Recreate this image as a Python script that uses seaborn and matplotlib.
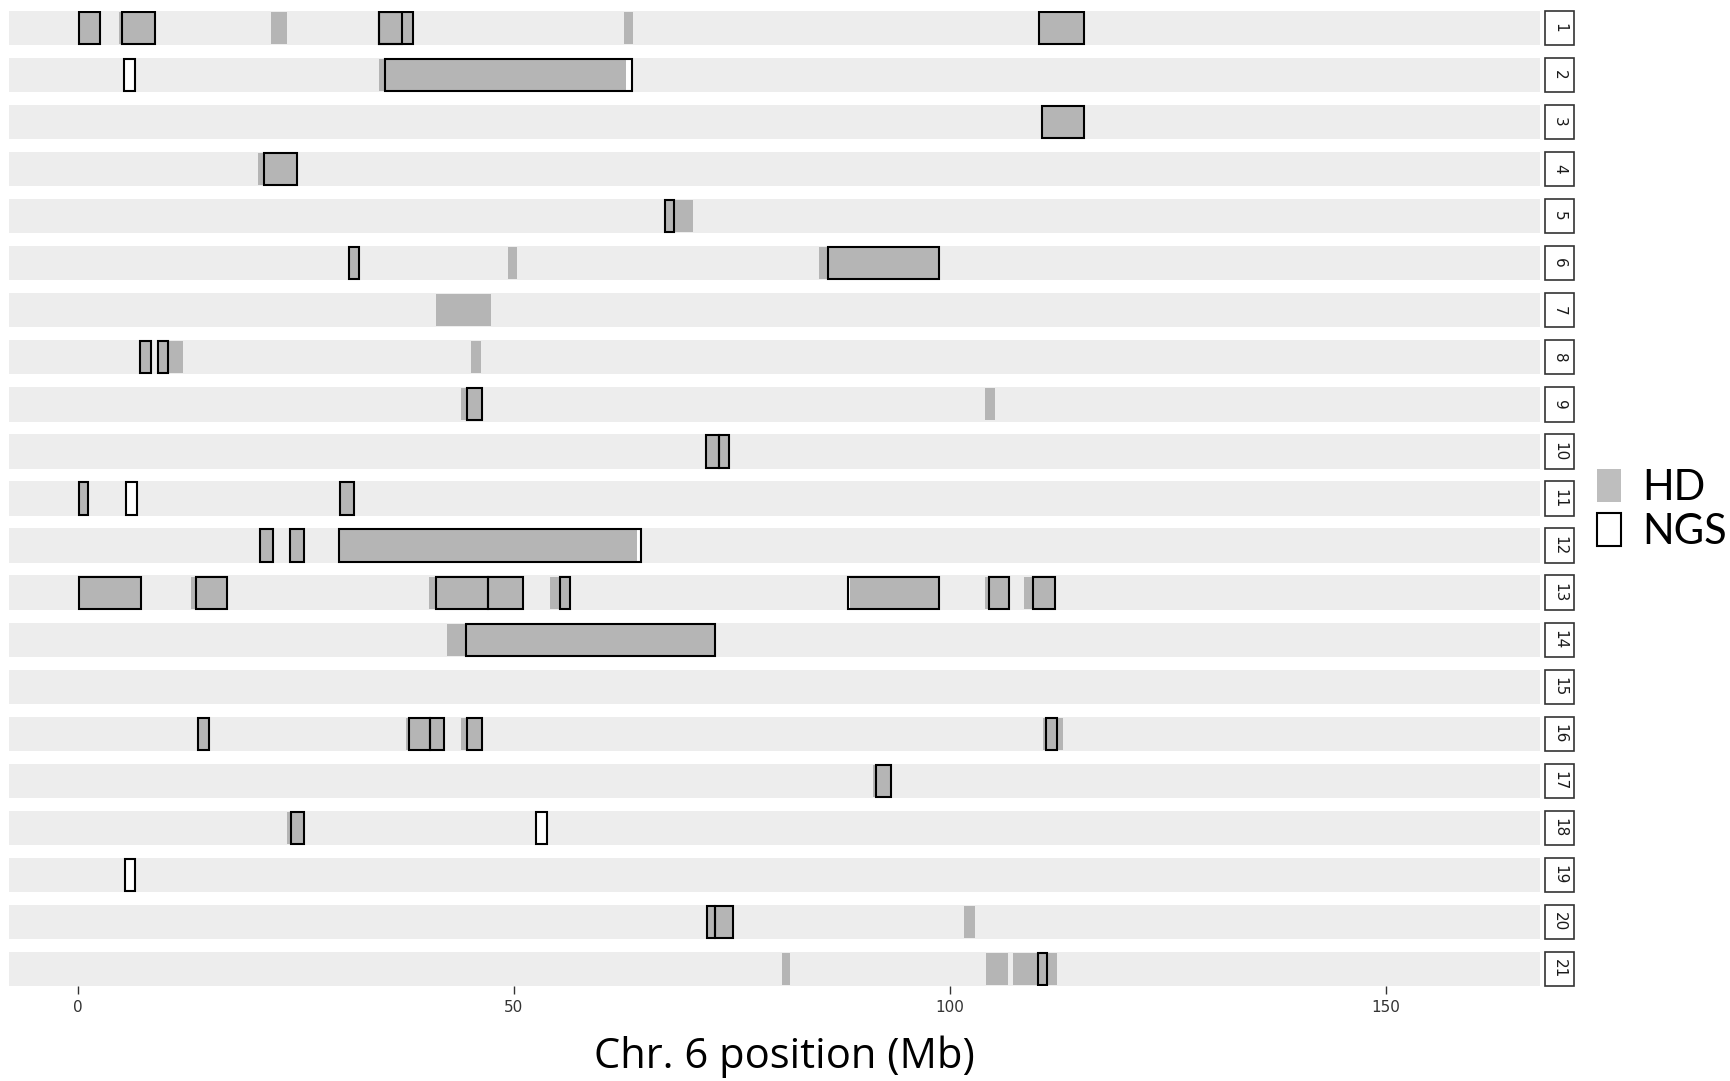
import matplotlib
matplotlib.use("Agg")
import matplotlib.pyplot as plt
from matplotlib.patches import Patch, Rectangle
import seaborn as sns
import pandas as pd

# sample rows (facets)
samples = list(range(1, 22))

# HD segments (row, start Mb, end Mb)
hd_row = [1, 1, 1, 1, 1, 1, 2, 3, 4, 5, 6, 6, 6, 7, 8, 8, 8, 9, 9, 10, 11, 11,
          12, 12, 12, 13, 13, 13, 13, 13, 13, 13, 14, 16, 16, 16, 16, 17, 18,
          20, 20, 21, 21, 21]
hd_start = [0.1, 4.7, 22.2, 34.5, 62.6, 110.2, 34.5, 110.6, 20.7, 67.3, 31.1, 49.3, 85.0,
            41.1, 7.2, 9.2, 45.1, 44.0, 104.0, 72.1, 0.1, 30.1,
            20.9, 24.3, 30.0, 0.1, 13.0, 40.3, 54.2, 88.6, 104.1, 108.5, 42.4,
            13.8, 37.6, 44.0, 110.7, 91.2, 24.0, 72.2, 101.7, 80.8, 104.2, 107.3]
hd_end = [2.6, 8.9, 24.0, 38.5, 63.7, 115.4, 62.9, 115.4, 25.2, 70.6, 32.3, 50.4, 98.8,
          47.4, 8.4, 12.1, 46.3, 46.4, 105.2, 74.7, 1.2, 31.7,
          22.4, 25.9, 64.2, 7.3, 17.1, 51.1, 56.5, 98.8, 106.8, 112.1, 73.1,
          15.1, 42.0, 46.4, 113.0, 93.3, 25.9, 75.2, 102.9, 81.7, 106.7, 112.3]

# NGS segments (row, start Mb, end Mb)
ngs_row = [1, 1, 1, 1, 1, 2, 2, 3, 4, 5, 6, 6, 8, 8, 9, 10, 10, 11, 11, 11,
           12, 12, 12, 13, 13, 13, 13, 13, 13, 13, 13, 14, 16, 16, 16, 16, 16,
           17, 18, 18, 19, 20, 20, 21]
ngs_start = [0.1, 5.1, 34.5, 34.5, 110.2, 5.3, 35.2, 110.6, 21.4, 67.3, 31.1, 86.0,
             7.2, 9.2, 44.6, 72.1, 73.6, 0.1, 5.5, 30.1,
             20.9, 24.3, 30.0, 0.1, 13.6, 41.1, 47.0, 55.3, 88.3, 104.5, 109.5, 44.5,
             13.8, 38.0, 40.4, 44.6, 111.1, 91.6, 24.5, 52.6, 5.4, 72.2, 73.1, 110.1]
ngs_end = [2.6, 8.9, 37.2, 38.5, 115.4, 6.6, 63.6, 115.4, 25.2, 68.4, 32.3, 98.8,
           8.4, 10.4, 46.4, 73.6, 74.7, 1.2, 6.8, 31.7,
           22.4, 25.9, 64.6, 7.3, 17.1, 47.0, 51.1, 56.5, 98.8, 106.8, 112.1, 73.1,
           15.1, 40.4, 42.0, 46.4, 112.3, 93.3, 25.9, 53.8, 6.6, 73.1, 75.2, 111.2]

hd = pd.DataFrame({"row": hd_row, "start": hd_start, "end": hd_end})
ngs = pd.DataFrame({"row": ngs_row, "start": ngs_start, "end": ngs_end})

x_min, x_max = -7.9, 167.7
bar_h = 0.727
hd_color = "#B5B5B5"
band_color = "#EDEDED"

sns.set_theme(style="white")
plt.rcParams["font.family"] = ["Liberation Sans Narrow", "DejaVu Sans"]

W, H = 1731, 1081
fig = plt.figure(figsize=(W / 100, H / 100), dpi=100)
left, right = 8.8 / W, 1540 / W
top, bottom = 1 - 11 / H, 1 - 986 / H
ax = fig.add_axes([left, bottom, right - left, top - bottom])

# background band for each sample
ax.barh(samples, [x_max - x_min] * len(samples), left=x_min, height=bar_h,
        color=band_color, linewidth=0, zorder=0)

# NGS white fill, then HD, then NGS outline
ax.barh(ngs["row"], ngs["end"] - ngs["start"], left=ngs["start"], height=bar_h * 0.94,
        color="white", linewidth=0, zorder=1)
ax.barh(hd["row"], hd["end"] - hd["start"], left=hd["start"], height=bar_h * 0.94,
        color=hd_color, linewidth=0, zorder=2)
ax.barh(ngs["row"], ngs["end"] - ngs["start"], left=ngs["start"], height=bar_h * 0.94,
        facecolor="none", edgecolor="black", linewidth=1.5, zorder=3)

ax.set_xlim(x_min, x_max)
ax.set_ylim(21 + bar_h / 2, 1 - bar_h / 2)
ax.set_yticks([])
ax.set_xticks([0, 50, 100, 150])
ax.tick_params(axis="x", bottom=True, length=6, width=1, color="#333333",
               labelsize=11, labelcolor="#333333", pad=4)
for s in ax.spines.values():
    s.set_visible(False)

# facet strips on the right
trans = matplotlib.transforms.blended_transform_factory(ax.transAxes, ax.transData)
sx0 = (1545 - 8.8) / (1540 - 8.8)
sw = 29 / (1540 - 8.8)
for r in samples:
    ax.add_patch(Rectangle((sx0, r - bar_h / 2), sw, bar_h, transform=trans,
                           facecolor="white", edgecolor="#333333", linewidth=1.2,
                           clip_on=False))
    ax.text(sx0 + sw / 2, r, str(r), transform=trans, rotation=-90,
            ha="center", va="center", fontsize=11, color="#1A1A1A")

fig.text(784 / W, 1 - 1057 / H, "Chr. 6 position (Mb)", ha="center", va="center",
         fontsize=30, family=["Open Sans", "DejaVu Sans"], color="black")

handles = [Patch(facecolor="#BEBEBE", edgecolor="none", label="HD"),
           Patch(facecolor="white", edgecolor="black", linewidth=1.5, label="NGS")]
fig.legend(handles=handles, loc="center left", bbox_to_anchor=(1597 / W, 1 - 510 / H),
           frameon=False, handlelength=0.58, handleheight=0.85, borderpad=0,
           borderaxespad=0, handletextpad=0.5, labelspacing=0.15, labelcolor="black",
           prop={"family": ["Lato", "DejaVu Sans"], "size": 30})

fig.savefig("out.png", dpi=100)
